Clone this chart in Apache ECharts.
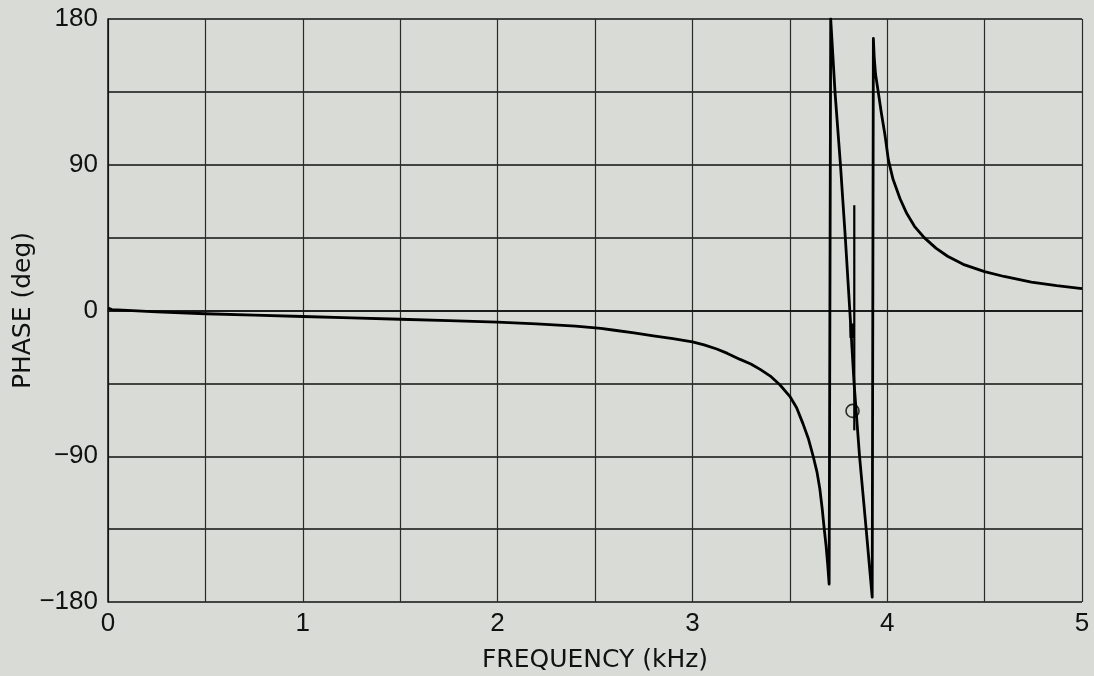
<!DOCTYPE html>
<html>
<head>
<meta charset="utf-8">
<script src="https://cdn.jsdelivr.net/npm/echarts@6/dist/echarts.min.js"></script>
<style>
  html, body { margin: 0; padding: 0; background: #d9dbd6; }
  #chart-phase { width: 1094px; height: 676px; }
</style>
</head>
<body>
<div id="chart-phase"></div>
<script>
// frequency (kHz) / phase (deg)
const freq = [
  0, 0.02, 0.1, 0.25, 0.5, 0.75, 1.0, 1.25, 1.5, 1.75, 2.0, 2.2, 2.4, 2.53, 2.6, 2.7, 2.8, 2.9, 3.0,
  3.06, 3.125, 3.18, 3.245, 3.3, 3.35, 3.4, 3.45, 3.5, 3.535, 3.568, 3.595, 3.62, 3.64, 3.654,
  3.666, 3.676, 3.686, 3.694, 3.702,
  3.705, 3.71, 3.732, 3.76, 3.785, 3.808, 3.83, 3.858, 3.892, 3.923,
  3.929, 3.933, 3.94, 3.954, 3.97, 3.989, 4.006, 4.03, 4.066, 4.1, 4.14, 4.19, 4.25, 4.31,
  4.39, 4.5, 4.6, 4.74, 4.87, 5.0
]
const phase = [
  1.5, 0.6, 0.1, -0.8, -2.0, -2.9, -3.7, -4.5, -5.4, -6.2, -7.2, -8.3, -9.7, -11.0, -12.2, -13.8, -15.6, -17.4, -19.4,
  -21.2, -23.8, -26.5, -30.2, -33, -36.5, -40.5, -46, -53, -60, -70, -79, -90, -100, -110,
  -122, -134, -145, -156, -169,
  -170, 180, 135, 90, 45, 0, -45, -90, -135, -177,
  168, 157, 146, 135, 122, 108, 93, 81, 69, 60, 52, 45, 38.5, 33.5,
  28.5, 24, 21, 17.5, 15.3, 13.5
]

// spurious marks near 3.8 kHz
const spikeFreq = [3.831, 3.831]
const spikePhase = [65, -74]
const blockFreq = [3.819, 3.819]
const blockPhase = [-8, -17]
const circleFreq = [3.822]
const circlePhase = [-62]

const xTicks = [0, 1, 2, 3, 4, 5]
const yTicks = [-180, -90, 0, 90, 180]

const zip = (a, b) => a.map((v, i) => [v, b[i]])

function chart() {
  const myChart = echarts.init(document.getElementById('chart-phase'))
  const tickFont = 'Liberation Sans'
  const nameFont = 'DejaVu Sans'

  const option = {
    backgroundColor: '#d9dbd6',
    animation: false,
    grid: {
      left: 108,
      right: 12,
      top: 19,
      bottom: 74,
      outerBoundsMode: 'none'
    },
    xAxis: {
      type: 'value',
      min: 0,
      max: 5,
      interval: 0.5,
      name: 'FREQUENCY (kHz)',
      nameLocation: 'middle',
      nameGap: 46,
      nameMoveOverlap: false,
      nameTextStyle: { color: '#111', fontSize: 25, fontFamily: nameFont },
      axisLine: { show: true, lineStyle: { color: '#111', width: 1.5 } },
      axisTick: { show: false },
      axisLabel: {
        color: '#111',
        fontSize: 26,
        fontFamily: tickFont,
        margin: 9,
        formatter: v => (xTicks.includes(v) ? String(v) : '')
      },
      splitLine: { show: true, lineStyle: { color: '#2a2a2a', width: 1.2 } }
    },
    yAxis: {
      type: 'value',
      min: -180,
      max: 180,
      interval: 45,
      name: 'PHASE (deg)',
      nameLocation: 'middle',
      nameGap: 72,
      nameMoveOverlap: false,
      nameTextStyle: { color: '#111', fontSize: 25, fontFamily: nameFont },
      axisLine: { show: true, lineStyle: { color: '#111', width: 1.5 } },
      axisTick: { show: false },
      axisLabel: {
        color: '#111',
        fontSize: 26,
        fontFamily: tickFont,
        margin: 10,
        formatter: v => (yTicks.includes(v) ? String(v).replace('-', '\u2212') : '')
      },
      splitLine: { show: true, lineStyle: { color: '#111', width: 1.6 } }
    },
    series: [
      {
        name: 'phase',
        type: 'line',
        data: zip(freq, phase),
        showSymbol: false,
        smooth: false,
        lineStyle: { color: '#000', width: 2.8, join: 'round' }
      },
      {
        name: 'spike',
        type: 'line',
        data: zip(spikeFreq, spikePhase),
        showSymbol: false,
        lineStyle: { color: '#000', width: 2.2 }
      },
      {
        name: 'block',
        type: 'line',
        data: zip(blockFreq, blockPhase),
        showSymbol: false,
        lineStyle: { color: '#000', width: 5 }
      },
      {
        name: 'marker',
        type: 'scatter',
        data: zip(circleFreq, circlePhase),
        symbol: 'circle',
        symbolSize: 13,
        itemStyle: { color: 'rgba(0,0,0,0)', borderColor: '#000', borderWidth: 1.6 }
      }
    ]
  }

  myChart.setOption(option)
}

chart()
</script>
</body>
</html>
